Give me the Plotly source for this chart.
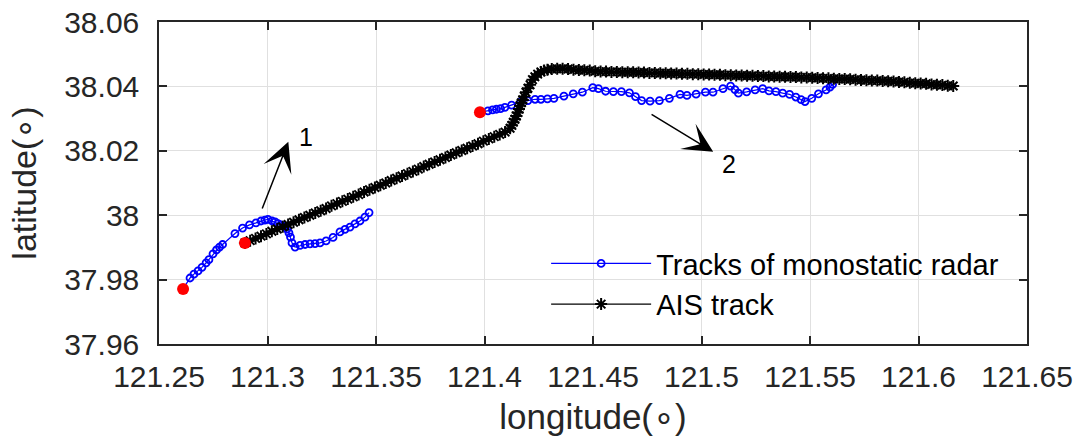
import plotly.graph_objects as go

# ---------------- data ----------------
radar1_lon = [121.2611, 121.2643, 121.2661, 121.2680, 121.2698, 121.2717, 121.2730, 121.2749,
              121.2765, 121.2779, 121.2793, 121.2850, 121.2885, 121.2917, 121.2947, 121.2970,
              121.2988, 121.3002, 121.3021, 121.3035, 121.3048, 121.3062, 121.3076, 121.3090,
              121.3099, 121.3106, 121.3113, 121.3127, 121.3150, 121.3173, 121.3196, 121.3219,
              121.3242, 121.3270, 121.3302, 121.3334, 121.3357, 121.3380, 121.3403, 121.3426,
              121.3449, 121.3468]
radar1_lat = [37.9771, 37.9805, 37.9817, 37.9827, 37.9838, 37.9852, 37.9862, 37.9880,
              37.9892, 37.9901, 37.9909, 37.9943, 37.9960, 37.9970, 37.9976, 37.9982,
              37.9985, 37.9987, 37.9982, 37.9979, 37.9974, 37.9970, 37.9965, 37.9957,
              37.9945, 37.9932, 37.9914, 37.9901, 37.9906, 37.9909, 37.9911, 37.9912,
              37.9914, 37.9920, 37.9931, 37.9948, 37.9956, 37.9963, 37.9973, 37.9982,
              37.9994, 38.0008]

radar2_lon = [121.3979, 121.4016, 121.4037, 121.4055, 121.4074, 121.4094, 121.4125, 121.4167,
              121.4200, 121.4233, 121.4260, 121.4290, 121.4320, 121.4366, 121.4409, 121.4451,
              121.4499, 121.4525, 121.4558, 121.4594, 121.4631, 121.4668, 121.4696, 121.4724,
              121.4763, 121.4806, 121.4852, 121.4901, 121.4933, 121.4975, 121.5018, 121.5053,
              121.5099, 121.5134, 121.5154, 121.5170, 121.5208, 121.5247, 121.5282, 121.5311,
              121.5343, 121.5374, 121.5406, 121.5435, 121.5459, 121.5477, 121.5508, 121.5539,
              121.5574, 121.5592, 121.5604]
radar2_lat = [38.0320, 38.0324, 38.0327, 38.0329, 38.0331, 38.0335, 38.0342, 38.0352,
              38.0356, 38.0360, 38.0360, 38.0361, 38.0363, 38.0370, 38.0377, 38.0382,
              38.0396, 38.0393, 38.0385, 38.0384, 38.0384, 38.0380, 38.0368, 38.0356,
              38.0354, 38.0356, 38.0363, 38.0375, 38.0372, 38.0376, 38.0382, 38.0382,
              38.0393, 38.0401, 38.0390, 38.0379, 38.0383, 38.0389, 38.0393, 38.0386,
              38.0384, 38.0379, 38.0375, 38.0367, 38.0359, 38.0353, 38.0363, 38.0377,
              38.0389, 38.0398, 38.0406]

ais_lon = [121.2896, 121.2920, 121.2945, 121.2970, 121.2995, 121.3020, 121.3045, 121.3070,
           121.3095, 121.3120, 121.3145, 121.3170, 121.3195, 121.3220, 121.3245, 121.3270,
           121.3295, 121.3320, 121.3345, 121.3370, 121.3395, 121.3420, 121.3445, 121.3470,
           121.3495, 121.3520, 121.3545, 121.3570, 121.3595, 121.3620, 121.3645, 121.3670,
           121.3695, 121.3720, 121.3745, 121.3770, 121.3795, 121.3820, 121.3845, 121.3870,
           121.3895, 121.3920, 121.3945, 121.3970, 121.3995, 121.4020, 121.4045, 121.4070,
           121.4095,
           121.4118, 121.4126, 121.4133, 121.4140, 121.4147, 121.4153, 121.4159, 121.4164,
           121.4170, 121.4176, 121.4183, 121.4191, 121.4200, 121.4210, 121.4221, 121.4232,
           121.4245, 121.4260, 121.4275, 121.4290, 121.4310, 121.4335, 121.4360,
           121.4385, 121.4410, 121.4435, 121.4460, 121.4485, 121.4510, 121.4535, 121.4560,
           121.4585, 121.4610, 121.4635, 121.4660, 121.4685, 121.4710, 121.4735, 121.4760,
           121.4785, 121.4810, 121.4835, 121.4860, 121.4885, 121.4910, 121.4935, 121.4960,
           121.4985, 121.5010, 121.5035, 121.5060, 121.5085, 121.5110, 121.5135, 121.5160,
           121.5185, 121.5210, 121.5235, 121.5260, 121.5285, 121.5310, 121.5335, 121.5360,
           121.5385, 121.5410, 121.5435, 121.5460, 121.5485, 121.5510, 121.5535, 121.5560,
           121.5585, 121.5610, 121.5635, 121.5660, 121.5685, 121.5710, 121.5735, 121.5760,
           121.5785, 121.5810, 121.5835, 121.5860, 121.5885, 121.5910, 121.5935, 121.5960,
           121.5985, 121.6010, 121.6035, 121.6060, 121.6085, 121.6110, 121.6135, 121.6160]
ais_lat = [37.9914, 37.9921, 37.9928, 37.9935, 37.9942, 37.9950, 37.9957, 37.9964,
           37.9971, 37.9978, 37.9986, 37.9993, 38.0000, 38.0007, 38.0014, 38.0021,
           38.0029, 38.0036, 38.0043, 38.0050, 38.0057, 38.0064, 38.0072, 38.0079,
           38.0086, 38.0093, 38.0100, 38.0108, 38.0115, 38.0122, 38.0129, 38.0136,
           38.0143, 38.0151, 38.0158, 38.0165, 38.0172, 38.0179, 38.0187, 38.0194,
           38.0201, 38.0208, 38.0215, 38.0222, 38.0230, 38.0237, 38.0244, 38.0251,
           38.0258,
           38.0270, 38.0279, 38.0289, 38.0298, 38.0308, 38.0319, 38.0330, 38.0340,
           38.0349, 38.0358, 38.0369, 38.0382, 38.0394, 38.0405, 38.0421, 38.0430,
           38.0438, 38.0445, 38.0449, 38.0452, 38.0454, 38.0455, 38.0455,
           38.0454, 38.0452, 38.0451, 38.0450, 38.0449, 38.0447, 38.0446, 38.0446,
           38.0445, 38.0445, 38.0444, 38.0444, 38.0444, 38.0443, 38.0443, 38.0442,
           38.0442, 38.0441, 38.0441, 38.0440, 38.0440, 38.0439, 38.0439, 38.0438,
           38.0438, 38.0437, 38.0437, 38.0436, 38.0436, 38.0435, 38.0435, 38.0434,
           38.0434, 38.0433, 38.0433, 38.0432, 38.0432, 38.0431, 38.0431, 38.0430,
           38.0430, 38.0429, 38.0429, 38.0428, 38.0428, 38.0427, 38.0426, 38.0425,
           38.0425, 38.0424, 38.0423, 38.0423, 38.0422, 38.0421, 38.0420, 38.0419,
           38.0418, 38.0418, 38.0417, 38.0416, 38.0415, 38.0414, 38.0413, 38.0411,
           38.0410, 38.0409, 38.0408, 38.0406, 38.0405, 38.0404, 38.0402, 38.0401]

start_lon = [121.2611, 121.2896, 121.3979]
start_lat = [37.9771, 37.9914, 38.0320]

x_ticks = [121.25, 121.30, 121.35, 121.40, 121.45, 121.50, 121.55, 121.60, 121.65]
x_labels = ["121.25", "121.3", "121.35", "121.4", "121.45", "121.5", "121.55", "121.6", "121.65"]
y_ticks = [37.96, 37.98, 38.00, 38.02, 38.04, 38.06]
y_labels = ["37.96", "37.98", "38", "38.02", "38.04", "38.06"]

# ---------------- figure ----------------
FONT = "Liberation Sans, Arial, Helvetica, sans-serif"
TXT = "#262626"

fig = go.Figure()

radar_marker = dict(symbol="circle-open", size=7, color="#0000ff", line=dict(width=1.8, color="#0000ff"))
fig.add_trace(go.Scatter(x=radar1_lon, y=radar1_lat, mode="lines+markers",
                         name="Tracks of monostatic radar", legendgroup="r", legendrank=1,
                         line=dict(color="#0000ff", width=1.2), marker=radar_marker))
fig.add_trace(go.Scatter(x=radar2_lon, y=radar2_lat, mode="lines+markers",
                         name="Tracks of monostatic radar", legendgroup="r", showlegend=False,
                         line=dict(color="#0000ff", width=1.2), marker=radar_marker))
fig.add_trace(go.Scatter(x=ais_lon, y=ais_lat, mode="lines+markers", name="AIS track",
                         legendrank=2,
                         line=dict(color="black", width=1.2),
                         marker=dict(symbol="asterisk", size=10, color="black",
                                     line=dict(width=2, color="black"))))
fig.add_trace(go.Scatter(x=start_lon, y=start_lat, mode="markers", showlegend=False,
                         marker=dict(symbol="circle", size=12, color="#ff0000", line=dict(width=0))))

axis_common = dict(showgrid=True, gridcolor="#e0e0e0", gridwidth=1.3, zeroline=False,
                   showline=True, linecolor=TXT, linewidth=1.5, mirror="ticks",
                   ticks="inside", ticklen=8, tickwidth=1.5, tickcolor=TXT,
                   ticklabeloverflow="allow",
                   tickfont=dict(family=FONT, size=30, color=TXT))

fig.update_xaxes(range=[121.25, 121.65], tickvals=x_ticks, ticktext=x_labels,
                 ticklabelstandoff=5,
                 title=dict(text="longitude(∘)", font=dict(family=FONT, size=35, color=TXT), standoff=13),
                 **axis_common)
fig.update_yaxes(range=[37.96, 38.06], tickvals=y_ticks, ticktext=y_labels,
                 ticklabelstandoff=12,
                 title=dict(text="latitude(∘)", font=dict(family=FONT, size=34, color=TXT), standoff=17),
                 **axis_common)

arrow = dict(xref="x", yref="y", axref="x", ayref="y", showarrow=True, arrowhead=3,
             arrowsize=3.3, arrowwidth=1.5, arrowcolor="black", text="")
fig.add_annotation(x=121.3096, y=38.0228, ax=121.2973, ay=38.0016, **arrow)
fig.add_annotation(x=121.5054, y=38.0197, ax=121.4763, ay=38.0316, **arrow)
fig.add_annotation(x=121.3177, y=38.0243, text="1", showarrow=False, xref="x", yref="y",
                   font=dict(family=FONT, size=25, color="black"))
fig.add_annotation(x=121.5127, y=38.0159, text="2", showarrow=False, xref="x", yref="y",
                   font=dict(family=FONT, size=25, color="black"))

fig.update_layout(
    width=1080, height=439,
    margin=dict(l=159, r=53, t=22, b=95, autoexpand=False),
    paper_bgcolor="white", plot_bgcolor="white",
    showlegend=True,
    legend=dict(x=0.446, y=0.329, xanchor="left", yanchor="top",
                bgcolor="rgba(0,0,0,0)", borderwidth=0, itemwidth=100,
                tracegroupgap=0,
                font=dict(family=FONT, size=29, color="black")),
)

# remove the browser's default 8 px body margin so the figure fills the window exactly
fig.write_html("out.html", config={"displayModeBar": False},
               post_script="document.body.style.margin='0';")
